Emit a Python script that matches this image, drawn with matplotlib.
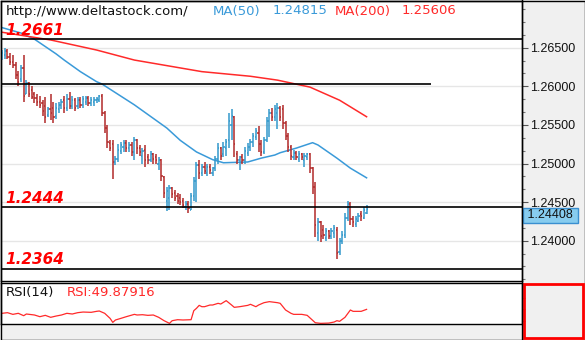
import numpy as np
import matplotlib
matplotlib.use("Agg")
import matplotlib.pyplot as plt
from matplotlib.patches import Rectangle
from matplotlib.lines import Line2D
from matplotlib.ticker import MultipleLocator, FixedLocator, FormatStrFormatter

# GBP/USD style OHLC bars
opens = [1.2637, 1.2640, 1.2646, 1.2638, 1.2632, 1.2628, 1.2615, 1.2610, 1.2624, 1.2590,
         1.2604, 1.2595, 1.2590, 1.2585, 1.2580, 1.2578, 1.2575, 1.2563, 1.2570, 1.2572,
         1.2562, 1.2570, 1.2576, 1.2582, 1.2572, 1.2584, 1.2574, 1.2582, 1.2574, 1.2582,
         1.2576, 1.2580, 1.2585, 1.2578, 1.2580, 1.2582, 1.2582, 1.2588, 1.2566, 1.2546,
         1.2526, 1.2525, 1.2502, 1.2506, 1.2516, 1.2522, 1.2526, 1.2520, 1.2524, 1.2515,
         1.2530, 1.2520, 1.2510, 1.2518, 1.2508, 1.2505, 1.2512, 1.2508, 1.2500, 1.2505,
         1.2482, 1.2452, 1.2455, 1.2468, 1.2462, 1.2458, 1.2456, 1.2452, 1.2444, 1.2448,
         1.2440, 1.2458, 1.2478, 1.2498, 1.2488, 1.2496, 1.2488, 1.2496, 1.2488, 1.2494,
         1.2506, 1.2520, 1.2512, 1.2520, 1.2530, 1.2550, 1.2560, 1.2512, 1.2504, 1.2508,
         1.2504, 1.2514, 1.2522, 1.2528, 1.2534, 1.2540, 1.2525, 1.2515, 1.2530, 1.2555,
         1.2565, 1.2560, 1.2566, 1.2572, 1.2570, 1.2552, 1.2536, 1.2522, 1.2508, 1.2514,
         1.2506, 1.2512, 1.2504, 1.2508, 1.2512, 1.2494, 1.2470, 1.2410, 1.2424, 1.2414,
         1.2404, 1.2412, 1.2406, 1.2410, 1.2414, 1.2386, 1.2400, 1.2408, 1.2430, 1.2448,
         1.2428, 1.2422, 1.2426, 1.2434, 1.2430, 1.2436]
highs = [1.2647, 1.2650, 1.2648, 1.2643, 1.2640, 1.2632, 1.2620, 1.2628, 1.2641, 1.2608,
         1.2606, 1.2600, 1.2592, 1.2590, 1.2588, 1.2582, 1.2586, 1.2573, 1.2590, 1.2580,
         1.2578, 1.2580, 1.2584, 1.2588, 1.2590, 1.2592, 1.2588, 1.2585, 1.2586, 1.2586,
         1.2588, 1.2588, 1.2588, 1.2586, 1.2586, 1.2586, 1.2589, 1.2590, 1.2568, 1.2550,
         1.2530, 1.2530, 1.2510, 1.2525, 1.2528, 1.2530, 1.2530, 1.2528, 1.2528, 1.2535,
         1.2532, 1.2524, 1.2520, 1.2524, 1.2512, 1.2516, 1.2514, 1.2512, 1.2508, 1.2506,
         1.2484, 1.2470, 1.2472, 1.2470, 1.2466, 1.2462, 1.2460, 1.2455, 1.2452, 1.2452,
         1.2462, 1.2482, 1.2502, 1.2504, 1.2500, 1.2502, 1.2500, 1.2500, 1.2496, 1.2510,
         1.2526, 1.2522, 1.2528, 1.2532, 1.2566, 1.2570, 1.2562, 1.2516, 1.2510, 1.2512,
         1.2522, 1.2526, 1.2532, 1.2540, 1.2546, 1.2548, 1.2530, 1.2535, 1.2560, 1.2570,
         1.2572, 1.2576, 1.2578, 1.2575, 1.2576, 1.2555, 1.2540, 1.2524, 1.2518, 1.2516,
         1.2516, 1.2514, 1.2514, 1.2514, 1.2514, 1.2496, 1.2476, 1.2430, 1.2426, 1.2420,
         1.2416, 1.2414, 1.2416, 1.2420, 1.2418, 1.2404, 1.2412, 1.2436, 1.2452, 1.2450,
         1.2432, 1.2432, 1.2436, 1.2438, 1.2444, 1.2446]
lows = [1.2634, 1.2636, 1.2635, 1.2628, 1.2624, 1.2610, 1.2600, 1.2605, 1.2580, 1.2590,
        1.2586, 1.2583, 1.2578, 1.2575, 1.2572, 1.2562, 1.2552, 1.2560, 1.2556, 1.2552,
        1.2558, 1.2566, 1.2570, 1.2566, 1.2568, 1.2570, 1.2570, 1.2568, 1.2570, 1.2572,
        1.2572, 1.2576, 1.2574, 1.2575, 1.2574, 1.2578, 1.2580, 1.2562, 1.2540, 1.2520,
        1.2516, 1.2480, 1.2498, 1.2502, 1.2512, 1.2515, 1.2515, 1.2515, 1.2510, 1.2505,
        1.2512, 1.2510, 1.2500, 1.2496, 1.2500, 1.2502, 1.2500, 1.2500, 1.2492, 1.2478,
        1.2455, 1.2438, 1.2440, 1.2455, 1.2452, 1.2448, 1.2446, 1.2443, 1.2440, 1.2436,
        1.2440, 1.2452, 1.2450, 1.2480, 1.2484, 1.2486, 1.2484, 1.2486, 1.2484, 1.2490,
        1.2500, 1.2504, 1.2508, 1.2510, 1.2520, 1.2530, 1.2508, 1.2500, 1.2492, 1.2500,
        1.2500, 1.2510, 1.2516, 1.2522, 1.2530, 1.2515, 1.2510, 1.2512, 1.2528, 1.2535,
        1.2555, 1.2555, 1.2545, 1.2555, 1.2545, 1.2530, 1.2515, 1.2505, 1.2504, 1.2504,
        1.2502, 1.2504, 1.2496, 1.2504, 1.2488, 1.2460, 1.2405, 1.2400, 1.2398, 1.2402,
        1.2400, 1.2402, 1.2402, 1.2404, 1.2377, 1.2382, 1.2396, 1.2404, 1.2425, 1.2420,
        1.2418, 1.2418, 1.2424, 1.2426, 1.2428, 1.2434]
closes = [1.2643, 1.2646, 1.2638, 1.2632, 1.2628, 1.2615, 1.2605, 1.2624, 1.2588, 1.2604,
          1.2590, 1.2586, 1.2585, 1.2580, 1.2576, 1.2568, 1.2560, 1.2570, 1.2565, 1.2560,
          1.2572, 1.2576, 1.2580, 1.2572, 1.2584, 1.2574, 1.2582, 1.2572, 1.2582, 1.2576,
          1.2584, 1.2585, 1.2578, 1.2582, 1.2582, 1.2584, 1.2587, 1.2566, 1.2546, 1.2528,
          1.2520, 1.2502, 1.2506, 1.2518, 1.2524, 1.2526, 1.2520, 1.2524, 1.2515, 1.2530,
          1.2520, 1.2515, 1.2516, 1.2505, 1.2504, 1.2512, 1.2506, 1.2504, 1.2505, 1.2484,
          1.2462, 1.2465, 1.2468, 1.2460, 1.2456, 1.2452, 1.2450, 1.2446, 1.2448, 1.2442,
          1.2458, 1.2478, 1.2498, 1.2488, 1.2495, 1.2490, 1.2496, 1.2492, 1.2494, 1.2506,
          1.2520, 1.2510, 1.2522, 1.2528, 1.2555, 1.2562, 1.2525, 1.2504, 1.2508, 1.2504,
          1.2516, 1.2522, 1.2528, 1.2536, 1.2542, 1.2525, 1.2515, 1.2530, 1.2555, 1.2565,
          1.2560, 1.2570, 1.2572, 1.2560, 1.2552, 1.2536, 1.2522, 1.2510, 1.2514, 1.2508,
          1.2512, 1.2508, 1.2510, 1.2512, 1.2494, 1.2470, 1.2420, 1.2424, 1.2406, 1.2408,
          1.2412, 1.2406, 1.2412, 1.2416, 1.2384, 1.2400, 1.2408, 1.2430, 1.2448, 1.2428,
          1.2424, 1.2428, 1.2432, 1.2432, 1.2440, 1.24408]

# moving averages (bar index, value)
ma50_idx = [0, 7, 12, 20, 23, 29, 35, 37, 49, 61, 66, 72, 78, 82, 91, 96, 101, 103, 109, 115, 117, 124, 129, 135]
ma50_val = [1.2676, 1.2669, 1.2661, 1.2642, 1.2634, 1.2619, 1.2606, 1.2603, 1.2576, 1.2546, 1.2530, 1.2515,
            1.2505, 1.2501, 1.2502, 1.2507, 1.2511, 1.2514, 1.2520, 1.2527, 1.2524, 1.2507, 1.2494, 1.24815]
ma200_idx = [0, 18, 35, 49, 74, 92, 102, 114, 125, 135]
ma200_val = [1.2670, 1.2660, 1.2647, 1.2634, 1.2619, 1.2613, 1.2608, 1.2599, 1.2582, 1.25606]

# RSI(14)
rsi_idx = [0, 2, 4, 6, 8, 9, 12, 14, 16, 18, 20, 22, 24, 26, 28, 30, 33, 35, 36, 38, 40, 41, 42, 44, 46,
           49, 50, 52, 54, 56, 58, 60, 62, 63, 65, 67, 70, 71, 72, 73, 74, 75, 77, 78, 80, 81, 83, 85,
           86, 88, 91, 92, 94, 95, 97, 99, 102, 103, 105, 107, 108, 111, 113, 116, 118, 121, 123, 124,
           125, 127, 129, 130, 133, 135]
rsi_val = [43.1, 44.2, 41.3, 43.1, 39.0, 41.9, 40.2, 37.3, 39.6, 36.2, 38.4, 40.2, 43.1, 41.9, 44.2, 45.3,
           44.8, 46.5, 47.1, 43.1, 34.4, 27.5, 31.6, 34.4, 37.3, 41.3, 40.2, 40.7, 39.6, 40.2, 36.2, 30.4,
           25.8, 30.4, 32.1, 31.6, 32.1, 47.6, 51.7, 56.8, 54.5, 54.5, 57.4, 57.4, 60.3, 59.1, 64.9, 57.4,
           53.4, 54.5, 56.8, 58.6, 54.5, 57.4, 61.4, 63.2, 61.4, 60.3, 48.8, 43.1, 41.3, 41.3, 39.6, 26.9,
           25.8, 26.3, 28.1, 30.4, 29.3, 36.2, 48.8, 46.5, 46.5, 49.88]

# horizontal levels: price, label, right end as bar index (None = full width)
levels = [1.2661, 1.2603, 1.2444, 1.2364]
level_labels = ["1.2661", None, "1.2444", "1.2364"]
level_ends = [None, 158.7, None, None]

price_ticks = [1.240, 1.245, 1.250, 1.255, 1.260, 1.265]

last_price = 1.24408
ma50_last = 1.24815
ma200_last = 1.25606
rsi_last = 49.87916

up_col = "#3399cc"
down_col = "#b22a2a"
ma50_col = "#3a9ad9"
ma200_col = "#ff2a2a"

W, H = 585, 340
fig = plt.figure(figsize=(W / 100, H / 100), dpi=100, facecolor="#f0f0f0")
ax = fig.add_axes([1 / W, 59 / H, 521 / W, 280 / H])
rax = fig.add_axes([1 / W, 16 / H, 521 / W, 41 / H])

opens = np.array(opens)
highs = np.array(highs)
lows = np.array(lows)
closes = np.array(closes)
x = np.arange(len(closes))
cols = np.where(closes >= opens, up_col, down_col)

# grid
for v in price_ticks:
    ax.axhline(v, color="#e6e6e6", lw=1, zorder=0)

# OHLC bars
ax.vlines(x, lows, highs, colors=cols, lw=1.1, zorder=3)
ax.hlines(opens, x - 0.45, x, colors=cols, lw=1.1, zorder=3)
ax.hlines(closes, x, x + 0.45, colors=cols, lw=1.1, zorder=3)

ax.plot(ma50_idx, ma50_val, color=ma50_col, lw=1.1, zorder=2)
ax.plot(ma200_idx, ma200_val, color=ma200_col, lw=1.1, zorder=2)

xmin, xmax = -0.4, -0.4 + 521 / 2.7
ax.set_xlim(xmin, xmax)
ax.set_ylim(1.234787, 1.271048)

for lev, lab, end in zip(levels, level_labels, level_ends):
    if end is None:
        ax.axhline(lev, color="black", lw=1.2, zorder=4)
    else:
        ax.hlines(lev, xmin, end, color="black", lw=1.2, zorder=4)
    if lab:
        ax.annotate(lab, (0, lev), xycoords=("axes fraction", "data"),
                    xytext=(3, 3), textcoords="offset points", va="baseline",
                    color="#ff0000", fontsize=11, fontweight="bold", style="italic",
                    family="DejaVu Sans", zorder=5)

ax.yaxis.tick_right()
ax.yaxis.set_major_locator(FixedLocator(price_ticks))
ax.yaxis.set_minor_locator(MultipleLocator(0.005 / 3))
ax.yaxis.set_major_formatter(FormatStrFormatter("%.5f"))
ax.tick_params(axis="y", which="major", length=4, width=0.8, color="#555555",
               labelsize=9, pad=2, labelcolor="#111111")
ax.tick_params(axis="y", which="minor", length=2.5, width=0.8, color="#777777")
for t in ax.get_yticklabels():
    t.set_family("Liberation Sans")
ax.set_xticks([])
for s in ax.spines.values():
    s.set_color("black")
    s.set_linewidth(1)

# current price marker
ax.text(1.004, last_price, f" {last_price:.5f} ", transform=ax.get_yaxis_transform(),
        va="top", ha="left", fontsize=9, family="Liberation Sans", color="#111111",
        bbox=dict(boxstyle="square,pad=0.12", facecolor="#87ccef", edgecolor="#3a8fd0", lw=1),
        clip_on=False, zorder=6)

# header
hdr = [("http://www.deltastock.com/", 5, "#111111"),
       ("MA(50)", 212, ma50_col), (f"{ma50_last:.5f}", 272, ma50_col),
       ("MA(200)", 334, ma200_col), (f"{ma200_last:.5f}", 401, ma200_col)]
for txt, px, c in hdr:
    ax.text(px / 521, 1 - 10 / 280, txt, transform=ax.transAxes, va="center", ha="left",
            fontsize=9.5, color=c, family="DejaVu Sans")

# RSI panel
rax.plot(rsi_idx, rsi_val, color="#ff2a2a", lw=0.9)
rax.set_xlim(xmin, xmax)
rax.set_ylim(24.7, 95.3)
rax.set_xticks([])
rax.yaxis.tick_right()
rax.set_yticks([30, 50, 70])
rax.tick_params(axis="y", length=2.5, width=0.8, color="#777777", labelright=False)
for s in rax.spines.values():
    s.set_color("black")
    s.set_linewidth(1)
rax.text(5 / 521, 0.78, "RSI(14)", transform=rax.transAxes, va="center", ha="left",
         fontsize=9.5, color="#111111", family="DejaVu Sans")
rax.text(66 / 521, 0.78, f"RSI:{rsi_last:.5f}", transform=rax.transAxes, va="center",
         ha="left", fontsize=9.5, color="#ff2a2a", family="DejaVu Sans")

# frame, price-axis divider and RSI scale box
fig.add_artist(Line2D([522 / W, 522 / W], [0, 1], color="black", lw=1))
fig.add_artist(Rectangle((0.5 / W, 0.5 / H), (W - 1) / W, (H - 1) / H, fill=False,
                         edgecolor="black", lw=1))
fig.add_artist(Rectangle((524 / W, 2 / H), 59 / W, 54 / H, fill=False,
                         edgecolor="#ff0000", lw=2))

fig.savefig("out.png", dpi=100, facecolor=fig.get_facecolor())
